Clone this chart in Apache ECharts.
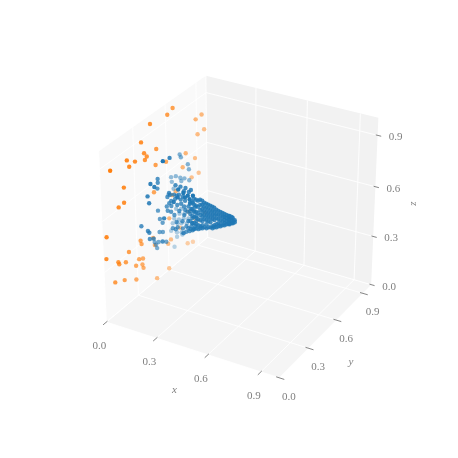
<!DOCTYPE html>
<html>
<head>
<meta charset="utf-8">
<style>html,body{margin:0;background:#fff}#chart{width:458px;height:458px}</style>
<script src="https://cdn.jsdelivr.net/npm/echarts@6/dist/echarts.min.js"></script>
</head>
<body>
<div id="chart"></div>
<script>
// values
const tickValues = [0, 0.3, 0.6, 0.9]
const tickLabels = ['0.0', '0.3', '0.6', '0.9']

const orangeY = [.67,.618,.456,.952,.892,.976,.909,.37,.507,.394,.418,.40,.788,.88,.238,.31,.257,.497,.596,.756,.09,.915,.843,.203,.683,.475,.648,.20,.151,.807,.614,.717,.863,.975,.904,.035,.455,.337,.345,.626,.469,.598,.792,.846,.227,.025,.129,.136,.196,.318,.354,.288,.347,.356,.602,.094,.179,.286,.482]
const orangeZ = [.95,.933,.95,.79,.787,.69,.69,.883,.783,.81,.78,.768,.63,.558,.84,.80,.795,.694,.667,.56,.85,.452,.457,.70,.448,.542,.441,.613,.61,.26,.315,.205,.19,.172,.16,.493,.275,.318,.293,.178,.223,.165,.068,.05,.306,.369,.296,.28,.26,.215,.20,.19,.167,.141,.008,.192,.16,.106,.009]
const orangeX = orangeY.map(() => 0) // all of them sit on the x=0 wall

const blueX = [.081,.088,.211,.129,.268,.135,.055,.026,.082,.107,.136,.088,.030,.138,.138,.193,.215,.135,.242,.040,.271,.300,.352,.331,.007,.203,.174,.193,.248,.381,.348,.406,.435,.182,.135,.209,.232,.261,.290,.319,.203,.188,.325,.271,.390,.416,.053,.084,.290,.315,.193,.213,.073,.104,.309,.267,.040,.069,.098,.127,.145,.161,.030,.059,.084,.117,.132,.170,.178,.141,.161,.019,.055,.084,.300,.313,.280,.180,.203,.255,.134,.180,.055,.088,.094,.110,.118,.124,.038,
  .325,.325,.325,.325,.348,.348,.348,.348,.348,.348,.371,.371,.371,.371,.371,.371,.395,.395,.395,.395,.395,.395,.395,.395,.418,.418,.418,.418,.418,.418,.418,.441,.441,.441,.441,.441,.441,.464,.464,.464,.464,.464,.464,.487,.487,.487,.487,.487,.511,.511,.511,.511,.534,.534,.534,.534,.551,.551,.551,.551,.569,.569,.569,.580,.580,
  .337,.337,.337,.337,.337,.360,.360,.360,.360,.360,.360,.383,.383,.383,.383,.383,.383,.383,.406,.406,.406,.406,.406,.406,.429,.429,.429,.429,.429,.429,.453,.453,.453,.453,.453,.453,.476,.476,.476,.476,.476,.499,.499,.499,.499,.499,.522,.522,.522,.522,.522,.545,.545,.545,.545,.563,.563,.563,
  .284,.238,.215,.296,.342,.250,.273,.325,.215,.354,.296,.331,.261,.232,.290,.325,.348,.360,.337,.313,.279,.244,.337,.360,.302,.331,.250,.221,.354,.319,.284,.342,.238]
const blueY = [.6,.6,.3,.6,.15,.6,.6,.6,.6,.6,.6,.6,.6,.3,.3,.15,.15,.3,.3,.6,.3,.3,.15,.3,.6,.3,.15,.3,.3,.15,.15,.15,.15,.15,.3,.3,.3,.3,.3,.3,.3,.3,.15,.3,.15,.15,.6,.6,.3,.3,.3,.3,.6,.6,.3,.15,.6,.6,.6,.6,.3,.3,.6,.6,.6,.6,.15,.15,.15,.3,.3,.6,.6,.6,.3,.3,.3,.15,.15,.15,.3,.3,.6,.6,.6,.3,.3,.3,.6,
  .3,.3,.3,.3,.3,.3,.3,.3,.3,.3,.3,.3,.3,.3,.3,.3,.3,.3,.3,.3,.3,.3,.3,.3,.3,.3,.3,.3,.3,.3,.3,.3,.3,.3,.3,.3,.3,.3,.3,.3,.3,.3,.3,.3,.3,.3,.3,.3,.3,.3,.3,.3,.3,.3,.3,.3,.3,.3,.3,.3,.3,.3,.3,.3,.3,
  .3,.3,.3,.3,.3,.3,.3,.3,.3,.3,.3,.3,.3,.3,.3,.3,.3,.3,.3,.3,.3,.3,.3,.3,.3,.3,.3,.3,.3,.3,.3,.3,.3,.3,.3,.3,.3,.3,.3,.3,.3,.3,.3,.3,.3,.3,.3,.3,.3,.3,.3,.3,.3,.3,.3,.3,.3,.3,
  .3,.3,.3,.3,.3,.3,.3,.3,.3,.3,.3,.3,.3,.3,.3,.3,.3,.3,.3,.3,.3,.3,.3,.3,.3,.3,.3,.3,.3,.3,.3,.3,.3]
const blueZ = [.730,.715,.882,.685,.948,.657,.594,.580,.592,.595,.592,.574,.553,.742,.720,.799,.788,.685,.734,.514,.734,.734,.812,.731,.469,.678,.723,.652,.675,.800,.766,.792,.800,.686,.556,.670,.677,.685,.713,.716,.619,.595,.733,.659,.778,.775,.396,.405,.624,.631,.572,.572,.372,.381,.600,.623,.333,.335,.350,.358,.509,.492,.300,.309,.316,.325,.538,.521,.513,.431,.437,.250,.252,.261,.479,.503,.493,.477,.486,.485,.369,.384,.224,.248,.260,.361,.348,.329,.156,
  .656,.608,.549,.502,.686,.651,.615,.580,.544,.509,.681,.645,.609,.574,.538,.515,.688,.664,.640,.616,.593,.569,.545,.527,.677,.653,.629,.606,.582,.558,.534,.671,.647,.624,.600,.576,.546,.666,.642,.619,.595,.565,.553,.655,.632,.608,.584,.566,.649,.626,.602,.578,.645,.627,.609,.591,.644,.626,.608,.596,.637,.619,.607,.628,.616,
  .665,.623,.582,.540,.499,.683,.648,.612,.577,.541,.517,.690,.660,.631,.601,.571,.536,.524,.679,.655,.632,.608,.584,.537,.674,.650,.626,.603,.579,.543,.669,.645,.621,.598,.556,.544,.658,.634,.610,.575,.557,.652,.629,.605,.581,.569,.647,.629,.612,.594,.582,.642,.624,.607,.595,.641,.623,.606,
  .679,.654,.636,.659,.661,.622,.635,.650,.606,.640,.606,.622,.590,.558,.574,.590,.609,.589,.570,.546,.535,.520,.540,.559,.512,.521,.491,.477,.527,.488,.466,.506,.476]

// camera: elevation 30, azimuth -60, cube box, distance 10
const box = 1.1
const dir = [0.433, -0.75, 0.5]
const right = [0.866, 0.5, 0]
const up = [-0.25, 0.433, 0.866]
const dot = (a, b) => a[0] * b[0] + a[1] * b[1] + a[2] * b[2]
const toBox = (x, y, z) => [box * (x - 0.5), box * (y - 0.5), box * (z - 0.5)]
function project(x, y, z) {
  const q = toBox(x, y, z)
  const d = 10 - dot(dir, q)
  return [dot(right, q) / d, dot(up, q) / d]
}

function scatterData(xs, ys, zs) {
  const depth = xs.map((x, i) => dot(dir, toBox(x, ys[i], zs[i])))
  const lo = Math.min(...depth)
  const hi = Math.max(...depth)
  return xs
    .map((x, i) => ({
      w: depth[i],
      value: project(x, ys[i], zs[i]),
      itemStyle: { opacity: 0.3 + 0.7 * (depth[i] - lo) / (hi - lo) }
    }))
    .sort((a, b) => a.w - b.w)
}

const panes = [
  { color: '#f9f9f9', pts: [[0, 0, 0], [0, 1, 0], [0, 1, 1], [0, 0, 1]] },
  { color: '#f2f2f2', pts: [[0, 1, 0], [1, 1, 0], [1, 1, 1], [0, 1, 1]] },
  { color: '#f5f5f5', pts: [[0, 0, 0], [1, 0, 0], [1, 1, 0], [0, 1, 0]] }
]

const gridLines = []
tickValues.forEach(t => {
  gridLines.push([[t, 0, 0], [t, 1, 0]], [[t, 1, 0], [t, 1, 1]])
  gridLines.push([[0, t, 0], [1, t, 0]], [[0, t, 0], [0, t, 1]])
  gridLines.push([[0, 0, t], [0, 1, t]], [[0, 1, t], [1, 1, t]])
})

const tickMarks = []
const tickTexts = []
tickValues.forEach((t, i) => {
  tickMarks.push([[t, -0.03, 0], [t, 0.01, 0]])
  tickMarks.push([[0.985, t, 0], [1.03, t, 0]])
  tickMarks.push([[0.99, 1, t], [1.02, 1, t]])
  tickTexts.push({ at: [t, 0, 0], dx: -7, dy: 24, text: tickLabels[i] })
  tickTexts.push({ at: [1, t, 0], dx: 10, dy: 19, text: tickLabels[i] })
  tickTexts.push({ at: [1, 1, t], dx: 18, dy: 2, text: tickLabels[i] })
})
const axisTitles = [
  { at: [0.5, 0, 0], dx: -16, dy: 41, text: 'x', rotation: 0 },
  { at: [1, 0.5, 0], dx: 24, dy: 33, text: 'y', rotation: 0 },
  { at: [1, 1, 0.5], dx: 38, dy: 0, text: 'z', rotation: Math.PI / 2 }
]

const coordOf = (api, p) => api.coord(project(p[0], p[1], p[2]))
const textColor = '#808080'

const chart = echarts.init(document.getElementById('chart'))
chart.setOption({
  animation: false,
  backgroundColor: '#fff',
  grid: { left: 0, top: 0, width: 458, height: 458 },
  xAxis: { type: 'value', min: -241 / 1810, max: 217 / 1810, show: false },
  yAxis: { type: 'value', min: -237 / 1770, max: 221 / 1770, show: false },
  series: [
    {
      type: 'custom',
      silent: true,
      coordinateSystem: 'cartesian2d',
      data: panes.map((p, i) => [i]),
      renderItem: (params, api) => {
        const pane = panes[params.dataIndex]
        return {
          type: 'polygon',
          shape: { points: pane.pts.map(p => coordOf(api, p)) },
          style: { fill: pane.color }
        }
      }
    },
    {
      type: 'custom',
      silent: true,
      coordinateSystem: 'cartesian2d',
      data: gridLines.map((l, i) => [i]),
      renderItem: (params, api) => {
        const l = gridLines[params.dataIndex]
        const a = coordOf(api, l[0])
        const b = coordOf(api, l[1])
        return {
          type: 'line',
          shape: { x1: a[0], y1: a[1], x2: b[0], y2: b[1] },
          style: { stroke: '#fff', lineWidth: 0.9 }
        }
      }
    },
    {
      type: 'custom',
      silent: true,
      coordinateSystem: 'cartesian2d',
      data: tickMarks.map((l, i) => [i]),
      renderItem: (params, api) => {
        const l = tickMarks[params.dataIndex]
        const a = coordOf(api, l[0])
        const b = coordOf(api, l[1])
        return {
          type: 'line',
          shape: { x1: a[0], y1: a[1], x2: b[0], y2: b[1] },
          style: { stroke: '#666', lineWidth: 0.8 }
        }
      }
    },
    {
      name: 'orange',
      type: 'scatter',
      silent: true,
      symbolSize: 4.4,
      itemStyle: { color: '#ff7f0e' },
      data: scatterData(orangeX, orangeY, orangeZ)
    },
    {
      name: 'blue',
      type: 'scatter',
      silent: true,
      symbolSize: 4.4,
      itemStyle: { color: '#1f77b4' },
      data: scatterData(blueX, blueY, blueZ)
    },
    {
      type: 'custom',
      silent: true,
      coordinateSystem: 'cartesian2d',
      data: tickTexts.concat(axisTitles).map((t, i) => [i]),
      renderItem: (params, api) => {
        const t = tickTexts.concat(axisTitles)[params.dataIndex]
        const c = coordOf(api, t.at)
        const isTitle = t.rotation !== undefined
        return {
          type: 'text',
          x: c[0] + t.dx,
          y: c[1] + t.dy,
          rotation: t.rotation || 0,
          style: {
            text: t.text,
            fill: textColor,
            font: (isTitle ? 'italic ' : '') + '11px "Liberation Serif"',
            align: 'center',
            verticalAlign: 'middle'
          }
        }
      }
    }
  ]
})
</script>
</body>
</html>
